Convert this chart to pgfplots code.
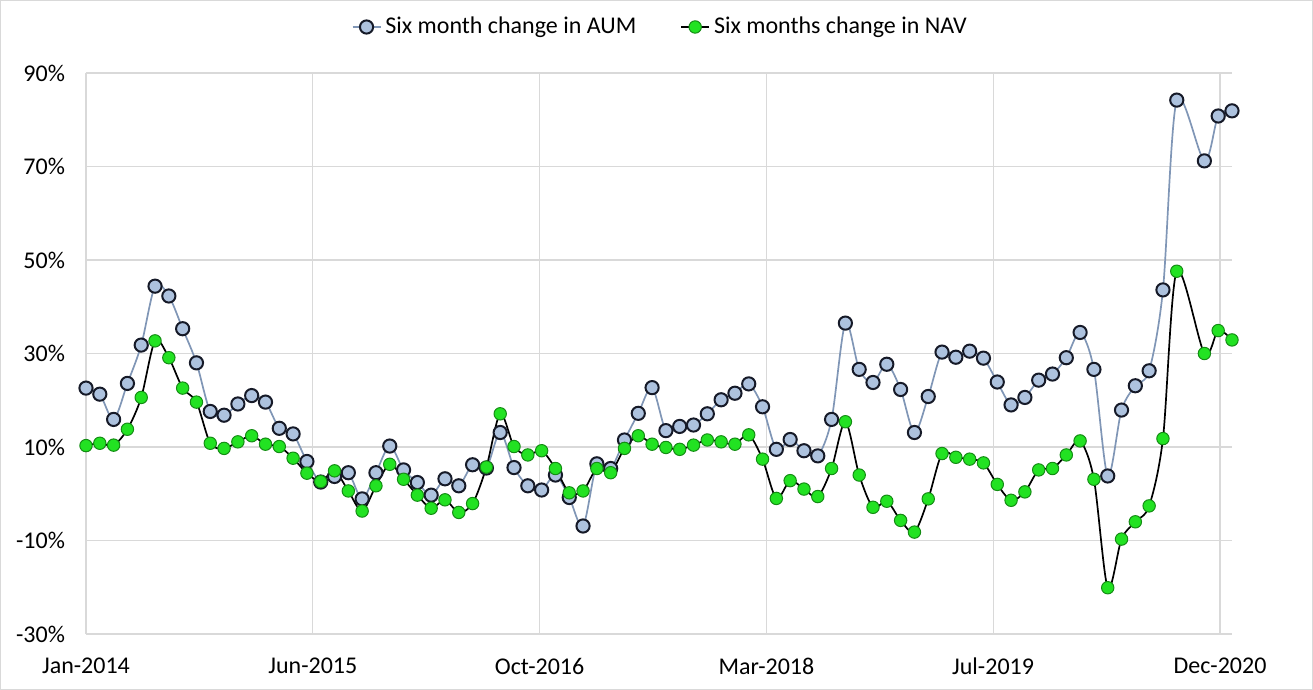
\documentclass[border=0pt]{standalone}
\usepackage{pgfplots}
\pgfplotsset{compat=1.18}
\usepackage{fontspec}
\setmainfont{Carlito}
\definecolor{aumline}{RGB}{128,150,182}
\definecolor{aumfill}{RGB}{173,194,222}
\definecolor{aumedge}{RGB}{22,26,40}
\definecolor{navfill}{RGB}{34,226,34}
\definecolor{navedge}{RGB}{20,140,20}
\definecolor{gridc}{RGB}{217,217,217}
\begin{document}
\begin{tikzpicture}
\useasboundingbox (0,0) rectangle (656.5pt,345pt);
\draw[gridc, line width=0.6pt] (0.3pt,0.3pt) rectangle (656.2pt,344.7pt);
\begin{axis}[
  at={(43pt,28pt)}, anchor=south west,
  scale only axis, width=573pt, height=280.5pt,
  xmin=0, xmax=83, ymin=-30, ymax=90,
  xtick={0,16.43,32.85,49.28,65.70,82.13},
  xticklabels={Jan-2014,Jun-2015,Oct-2016,Mar-2018,Jul-2019,Dec-2020},
  ytick={-30,-10,10,30,50,70,90},
  yticklabels={-30\%,-10\%,10\%,30\%,50\%,70\%,90\%},
  major tick length=0pt,
  grid=major,
  major grid style={gridc, line width=0.6pt},
  axis line style={draw=none},
  tick label style={font=\fontsize{12}{14}\selectfont, text=black},
  xticklabel style={yshift=-8.5pt},
  yticklabel style={xshift=-7pt},
  clip=false,
  legend style={at={(0.502,1.082)}, anchor=center, draw=none, fill=none,
    legend columns=2, font=\fontsize{12}{14}\selectfont,
    /tikz/every even column/.append style={column sep=20pt},
    inner sep=0pt},
  legend cell align=left,
  legend image code/.code={\draw[mark repeat=2,mark phase=2,#1] plot coordinates {(0pt,0pt)(7pt,0pt)(14pt,0pt)};},
]
\addplot[smooth, tension=0.5, color=aumline, line width=0.85pt,
  mark=*, mark size=3.3pt, mark options={fill=aumfill, draw=aumedge, line width=1pt}]
coordinates {
(0,22.6)(1,21.3)(2,15.9)(3,23.6)(4,31.8)(5,44.4)(6,42.3)(7,35.3)(8,28.0)(9,17.6)
(10,16.8)(11,19.2)(12,21.0)(13,19.6)(14,14.0)(15,12.8)(16,6.9)(17,2.5)(18,3.7)(19,4.5)
(20,-1.1)(21,4.5)(22,10.2)(23,5.1)(24,2.4)(25,-0.3)(26,3.2)(27,1.7)(28,6.2)(29,5.5)
(30,13.1)(31,5.6)(32,1.7)(33,0.8)(34,4.0)(35,-0.8)(36,-6.9)(37,6.4)(38,5.4)(39,11.5)
(40,17.2)(41,22.7)(42,13.5)(43,14.4)(44,14.7)(45,17.1)(46,20.1)(47,21.5)(48,23.5)(49,18.6)
(50,9.5)(51,11.6)(52,9.2)(53,8.1)(54,15.9)(55,36.5)(56,26.6)(57,23.8)(58,27.7)(59,22.3)
(60,13.1)(61,20.8)(62,30.3)(63,29.2)(64,30.5)(65,29.0)(66,23.9)(67,19.0)(68,20.6)(69,24.3)
(70,25.6)(71,29.1)(72,34.5)(73,26.6)(74,3.8)(75,17.9)(76,23.1)(77,26.3)(78,43.6)(79,84.2)
(81,71.2)(82,80.8)(83,81.9)
};
\addlegendentry{Six month change in AUM}
\addplot[smooth, tension=0.5, color=black, line width=0.85pt,
  mark=*, mark size=3.1pt, mark options={fill=navfill, draw=navedge, line width=0.5pt}]
coordinates {
(0,10.3)(1,10.8)(2,10.4)(3,13.8)(4,20.6)(5,32.7)(6,29.1)(7,22.6)(8,19.6)(9,10.8)
(10,9.7)(11,11.1)(12,12.4)(13,10.6)(14,10.1)(15,7.6)(16,4.4)(17,2.6)(18,4.9)(19,0.6)
(20,-3.7)(21,1.7)(22,6.3)(23,3.1)(24,-0.3)(25,-3.1)(26,-1.3)(27,-4.0)(28,-2.1)(29,5.7)
(30,17.1)(31,10.1)(32,8.3)(33,9.2)(34,5.4)(35,0.2)(36,0.6)(37,5.4)(38,4.5)(39,9.7)
(40,12.4)(41,10.6)(42,9.9)(43,9.5)(44,10.4)(45,11.5)(46,11.1)(47,10.6)(48,12.6)(49,7.4)
(50,-1.0)(51,2.8)(52,1.0)(53,-0.6)(54,5.4)(55,15.4)(56,4.0)(57,-2.9)(58,-1.6)(59,-5.7)
(60,-8.2)(61,-1.1)(62,8.6)(63,7.8)(64,7.4)(65,6.6)(66,2.0)(67,-1.4)(68,0.4)(69,5.1)
(70,5.4)(71,8.3)(72,11.3)(73,3.1)(74,-20.1)(75,-9.7)(76,-6.0)(77,-2.6)(78,11.8)(79,47.6)
(81,30.0)(82,34.9)(83,32.9)
};
\addlegendentry{Six months change in NAV}
\end{axis}
\end{tikzpicture}
\end{document}
